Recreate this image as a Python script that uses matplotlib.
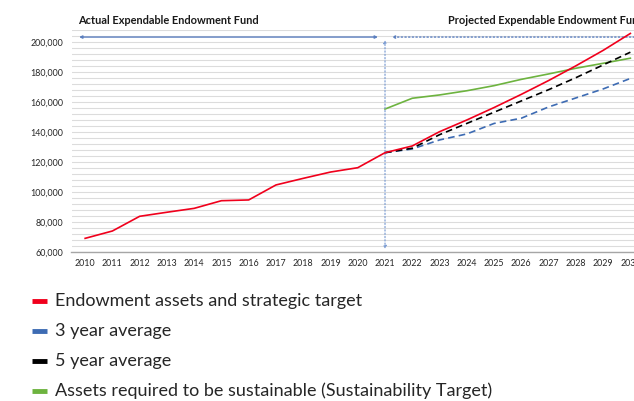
import matplotlib
matplotlib.use("Agg")
import matplotlib.pyplot as plt
from matplotlib.ticker import MultipleLocator, FuncFormatter
from matplotlib.lines import Line2D

plt.rcParams['font.family'] = ['Lato', 'DejaVu Sans']

years_actual = list(range(2010, 2031))
endowment = [68900, 73800, 83600, 86300, 88900, 94000, 94500, 104500, 108900, 113100,
             116000, 126000, 130500, 140000, 147800, 156100, 164900, 174100, 183900,
             194200, 205500]
years_proj = list(range(2021, 2031))
avg3 = [126000, 128500, 134500, 138500, 145500, 149000, 156500, 162500, 168500, 175500]
avg5 = [126000, 129000, 138000, 145500, 153000, 160500, 168000, 176000, 184500, 193000]
sustain = [155100, 162300, 164500, 167300, 170700, 174900, 178500, 182300, 185600, 189000]

legend_labels = ["Endowment assets and strategic target", "3 year average",
                 "5 year average", "Assets required to be sustainable (Sustainability Target)"]

RED = '#f0001c'
BLUE = '#3d6bb3'
BLACK = '#000000'
GREEN = '#6db33f'
ARROW = '#5b7fbf'

W, H = 634, 401
fig = plt.figure(figsize=(W / 100, H / 100), dpi=100)
left_px, right_px, top_px, bot_px = 71.5, 644, 29.7, 251.7
ax = fig.add_axes([left_px / W, 1 - bot_px / H, (right_px - left_px) / W, (bot_px - top_px) / H])

ax.set_xlim(2009.5, 2030.5)
ax.set_ylim(60000, 208000)
ax.yaxis.set_major_locator(MultipleLocator(20000))
ax.yaxis.set_minor_locator(MultipleLocator(4000))
ax.yaxis.set_major_formatter(FuncFormatter(lambda v, p: f"{int(v):,}"))
ax.set_xticks(years_actual)
ax.grid(True, which='both', axis='y', color='#dcdcdc', linewidth=0.8)
ax.set_axisbelow(True)
for s in ['top', 'right', 'left']:
    ax.spines[s].set_visible(False)
ax.spines['bottom'].set_color('#a6a6a6')
ax.spines['bottom'].set_linewidth(1.0)
ax.tick_params(axis='both', which='both', length=0, labelsize=6.4, colors='#262626')
ax.tick_params(axis='y', pad=6)
ax.tick_params(axis='x', pad=5)

ax.plot(years_proj, sustain, color=GREEN, lw=1.2, zorder=3)
ax.plot(years_proj, avg3, color=BLUE, lw=1.2, ls=(0, (4, 2.5)), zorder=3)
ax.plot(years_proj, avg5, color=BLACK, lw=1.2, ls=(0, (4, 2.5)), zorder=3)
ax.plot(years_actual, endowment, color=RED, lw=1.2, zorder=4)

# arrows
ax.annotate('', xy=(2009.78, 203100), xytext=(2020.74, 203100),
            arrowprops=dict(arrowstyle='<|-|>', color=ARROW, lw=1.0,
                            mutation_scale=4, shrinkA=0, shrinkB=0))
ax.annotate('', xy=(2021.25, 203100), xytext=(2031.5, 203100),
            arrowprops=dict(arrowstyle='-|>', color=ARROW, lw=1.0, ls=':',
                            mutation_scale=4, shrinkA=0, shrinkB=0))
ax.annotate('', xy=(2021, 201100), xytext=(2021, 61800),
            arrowprops=dict(arrowstyle='<|-|>', color='#7f9fd4', lw=0.9, ls=':',
                            mutation_scale=4, shrinkA=0, shrinkB=0))

fig.text(77.7 / W, 1 - 20 / H, "Actual Expendable Endowment Fund", fontsize=7.9,
         fontweight='bold', ha='left', va='center', color='#1a1a1a')
fig.text(447.7 / W, 1 - 20 / H, "Projected Expendable Endowment Fund", fontsize=7.9,
         fontweight='bold', ha='left', va='center', color='#1a1a1a')

colors = [RED, BLUE, BLACK, GREEN]
for i, (lab, c) in enumerate(zip(legend_labels, colors)):
    y = 1 - (301 + 30 * i) / H
    fig.add_artist(Line2D([31.5 / W, 46.5 / W], [y, y], color=c, lw=3.5,
                          transform=fig.transFigure, solid_capstyle='butt'))
    fig.text(55 / W, y, lab, fontsize=13, ha='left', va='center', color='#262626')

fig.savefig('out.png', dpi=100)
